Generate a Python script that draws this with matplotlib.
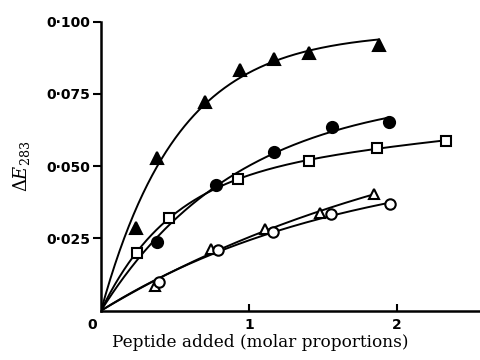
import numpy as np
import matplotlib
matplotlib.use("Agg")
import matplotlib.pyplot as plt

plt.rcParams["mathtext.fontset"] = "dejavuserif"

# Data (x: peptide added, molar proportions; y: Delta E283)
tri_f_x = [0.237, 0.378, 0.705, 0.938, 1.168, 1.406, 1.880]
tri_f_y = [0.0285, 0.0527, 0.0723, 0.0832, 0.0870, 0.0892, 0.0919]

circ_f_x = [0.382, 0.780, 1.168, 1.564, 1.948]
circ_f_y = [0.0239, 0.0435, 0.0550, 0.0634, 0.0654]

sq_o_x = [0.242, 0.461, 0.924, 1.405, 1.864, 2.332]
sq_o_y = [0.0201, 0.0322, 0.0455, 0.0518, 0.0564, 0.0588]

tri_o_x = [0.366, 0.746, 1.112, 1.478, 1.846]
tri_o_y = [0.0085, 0.0212, 0.0281, 0.0339, 0.0403]

circ_o_x = [0.393, 0.789, 1.164, 1.557, 1.955]
circ_o_y = [0.0100, 0.0210, 0.0271, 0.0334, 0.0369]

y_ticks = [0.025, 0.050, 0.075, 0.100]
y_ticklabels = ["0\u00b7025", "0\u00b7050", "0\u00b7075", "0\u00b7100"]
x_ticks = [1, 2]
x_ticklabels = ["1", "2"]


def smooth_curve(xs, ys, n=300):
    """Least-squares saturating curve through the origin:
    A(1 - exp(-k x)) + s x, with A, s >= 0."""
    xs = np.asarray(xs, float); ys = np.asarray(ys, float)
    best = None
    for k in np.linspace(0.05, 8, 800):
        e = 1 - np.exp(-k * xs)
        A_mat = np.column_stack([e, xs])
        coef, *_ = np.linalg.lstsq(A_mat, ys, rcond=None)
        if coef[1] < 0 or coef[0] < 0:
            a = np.dot(e, ys) / np.dot(e, e)
            coef = np.array([max(a, 0), 0.0])
        err = np.sum((A_mat @ coef - ys) ** 2)
        if best is None or err < best[0]:
            best = (err, k, coef)
    _, k, (A, s) = best
    xx = np.linspace(0, xs.max(), n)
    return xx, A * (1 - np.exp(-k * xx)) + s * xx


fig = plt.figure(figsize=(4.81, 3.60), dpi=100)
ax = fig.add_axes([0.21, 0.137, 0.79, 0.803])

series = [
    (tri_f_x, tri_f_y, dict(marker="^", mfc="black", ms=8.5)),
    (circ_f_x, circ_f_y, dict(marker="o", mfc="black", ms=8)),
    (sq_o_x, sq_o_y, dict(marker="s", mfc="white", ms=7)),
    (tri_o_x, tri_o_y, dict(marker="^", mfc="white", ms=7.5)),
    (circ_o_x, circ_o_y, dict(marker="o", mfc="white", ms=7.5)),
]
for xs, ys, st in series:
    cx, cy = smooth_curve(xs, ys)
    ax.plot(cx, cy, color="black", lw=1.4, zorder=2)
    ax.plot(xs, ys, linestyle="none", mec="black", mew=1.5, zorder=3, **st)

ax.set_xlim(0, 2.57)
ax.set_ylim(0, 0.100)
for s in ["top", "right"]:
    ax.spines[s].set_visible(False)
for s in ["left", "bottom"]:
    ax.spines[s].set_linewidth(1.8)

ax.set_yticks(y_ticks)
ax.set_yticklabels(y_ticklabels, fontsize=10, fontweight="bold", family="DejaVu Sans")
ax.set_xticks(x_ticks)
ax.set_xticklabels(x_ticklabels, fontsize=10, fontweight="bold", family="DejaVu Sans")
ax.tick_params(axis="y", direction="out", length=6, width=1.5, pad=2)
ax.tick_params(axis="x", direction="in", length=5, width=1.5, pad=5)
ax.text(-0.03, -0.005, "0", ha="right", va="center", fontsize=10,
        fontweight="bold", family="DejaVu Sans", transform=ax.transData, clip_on=False)

ax.set_xlabel("Peptide added (molar proportions)", fontsize=12.2,
              family="DejaVu Serif", labelpad=4)
ax.xaxis.set_label_coords(0.42, -0.08)
ax.set_ylabel(r"$\Delta E_{283}$", fontsize=13, labelpad=10)

fig.savefig("out.png", dpi=100)
